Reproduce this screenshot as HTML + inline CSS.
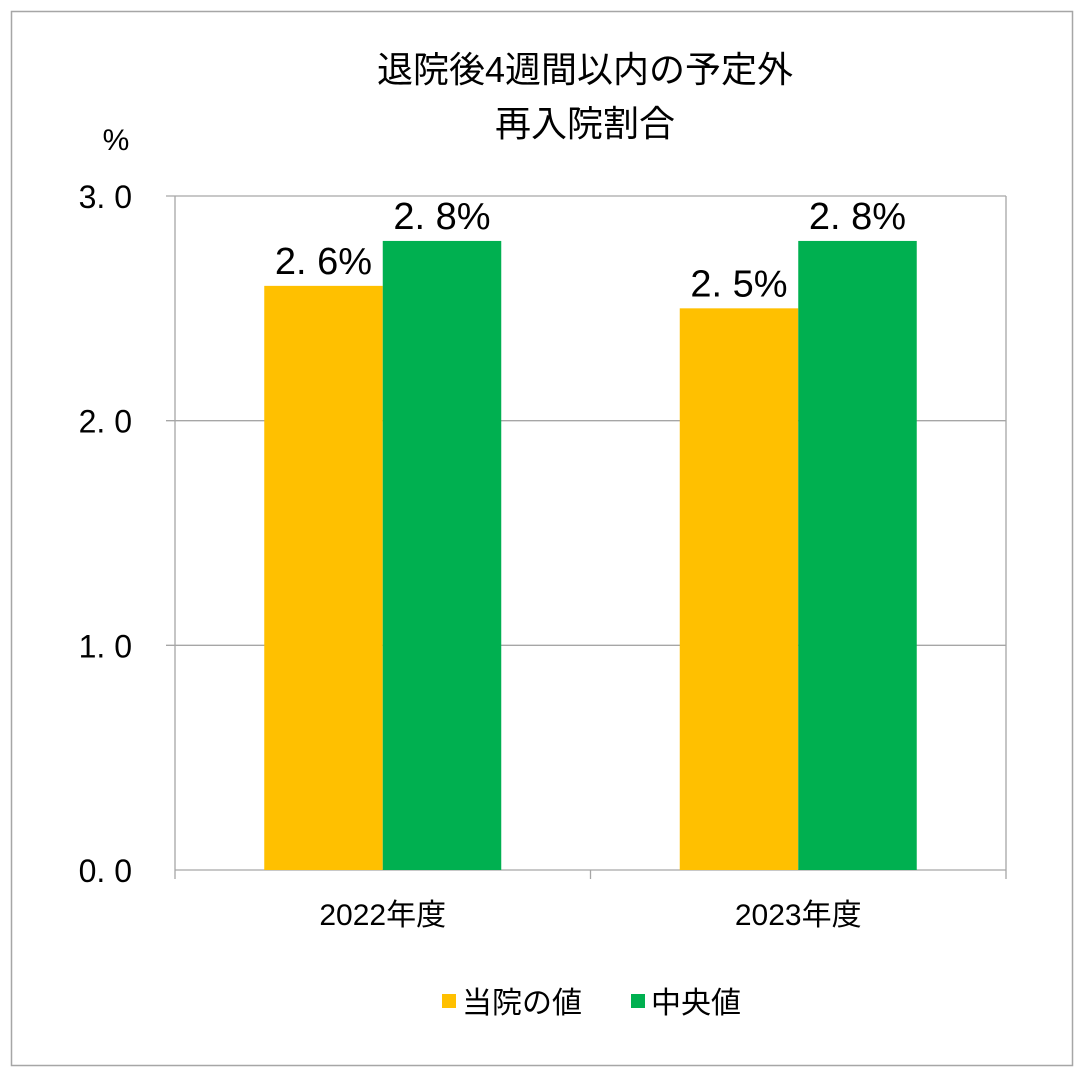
<!DOCTYPE html>
<html><head><meta charset="utf-8"><style>
html,body{margin:0;padding:0;background:#fff;}
svg text{font-family:"Liberation Sans Narrow","Liberation Sans","Noto Sans CJK JP",sans-serif;}
</style></head><body>
<svg id="chart" width="1083" height="1070" xmlns="http://www.w3.org/2000/svg">
<rect x="11.5" y="11.5" width="1061" height="1054" fill="#fff" stroke="#a6a6a6" stroke-width="1.5"/>
<text x="585" y="82" font-size="36" text-anchor="middle" fill="#000">退院後4週間以内の予定外</text>
<text x="585" y="136" font-size="36" text-anchor="middle" fill="#000">再入院割合</text>
<text x="116" y="150" font-size="30" text-anchor="middle" fill="#000">%</text>
<g id="grid"></g>
<g id="bars"></g>
<g id="labels"></g>
<g>
<rect x="442" y="994" width="14" height="14" fill="#ffc000"/>
<text x="462" y="1013" font-size="30" fill="#000">当院の値</text>
<rect x="631" y="994" width="14" height="14" fill="#00b050"/>
<text x="651" y="1013" font-size="30" fill="#000">中央値</text>
</g>
</svg>
<script>
const categories = ["2022年度", "2023年度"];
const hospitalValues = [2.6, 2.5];
const medianValues = [2.8, 2.8];
const yTicks = [0, 1, 2, 3];
const yTickLabels = ["0. 0", "1. 0", "2. 0", "3. 0"];

const NS = "http://www.w3.org/2000/svg";
const L = 175, R = 1006, T = 196, B = 870, yMax = 3;
const y = v => B - (v / yMax) * (B - T);
const catW = (R - L) / categories.length;
const xc = i => L + catW * (i + 0.5);
const bw = 118.5;
function mk(tag, attrs, parent) {
  const e = document.createElementNS(NS, tag);
  for (const k in attrs) e.setAttribute(k, attrs[k]);
  parent.appendChild(e);
  return e;
}
const grid = document.getElementById("grid");
const bars = document.getElementById("bars");
const labels = document.getElementById("labels");

yTicks.forEach((t, i) => {
  const g = mk("line", {x1: t === 0 ? L : L - 9, x2: R, y1: y(t), y2: y(t), stroke: "#a6a6a6", "stroke-width": 1.3}, grid);
  
  
  const tx = mk("text", {x: 132, y: y(t) + 12, "font-size": 32, "text-anchor": "end", fill: "#000"}, grid);
  
  
  tx.textContent = yTickLabels[i];
});
const ax = mk("line", {x1: L, x2: L, y1: T, y2: B + 9, stroke: "#a6a6a6", "stroke-width": 1.3}, grid);


const rx = mk("line", {x1: R, x2: R, y1: T, y2: B + 9, stroke: "#a6a6a6", "stroke-width": 1.3}, grid);


const mt = mk("line", {x1: (L + R) / 2, x2: (L + R) / 2, y1: B, y2: B + 9, stroke: "#a6a6a6", "stroke-width": 1.3}, grid);



categories.forEach((c, i) => {
  const cx = xc(i);
  [[hospitalValues[i], "#ffc000", cx - bw, "hospital"], [medianValues[i], "#00b050", cx, "median"]].forEach(([v, col, x, s]) => {
    const r = mk("rect", {x: x, y: y(v), width: bw, height: B - y(v), fill: col}, bars);
    
    
    const t = mk("text", {x: x + bw / 2, y: y(v) - 12, "font-size": 38, "text-anchor": "middle", fill: "#000"}, labels);
    
    
    t.textContent = v.toFixed(1).replace(".", ". ") + "%";
  });
  const xl = mk("text", {x: cx, y: 925, "font-size": 30, "text-anchor": "middle", fill: "#000"}, labels);
  
  
  xl.textContent = c;
});
</script>
</body></html>
